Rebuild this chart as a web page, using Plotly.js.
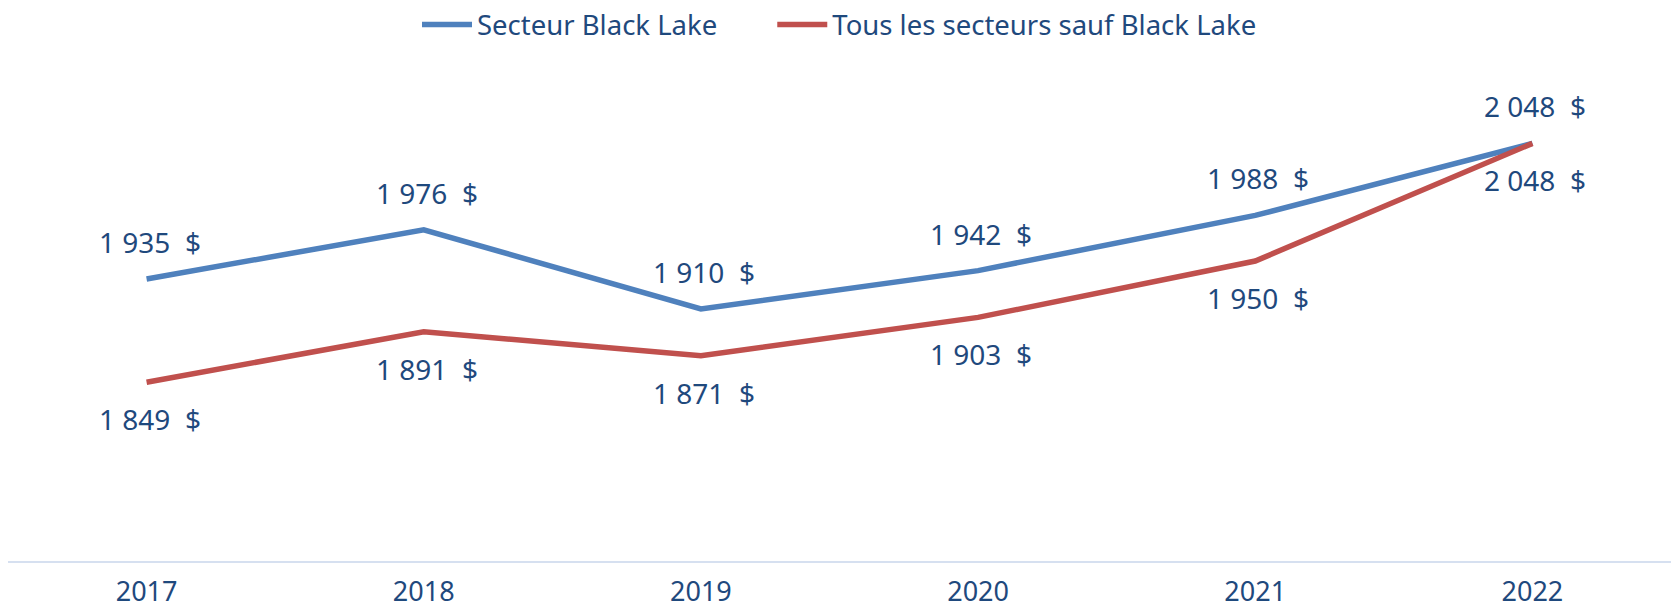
<!DOCTYPE html>
<html>
<head>
<meta charset="utf-8">
<script src="https://cdn.plot.ly/plotly-3.0.1.min.js"></script>
<style>html,body{margin:0;padding:0;background:#fff;}#chart{width:1671px;height:613px;}</style>
</head>
<body>
<div id="chart"></div>
<script>
const years = ["2017", "2018", "2019", "2020", "2021", "2022"];
const blackLake = [1935, 1976, 1910, 1942, 1988, 2048];
const autres = [1849, 1891, 1871, 1903, 1950, 2048];
const seriesNames = ["Secteur Black Lake", "Tous les secteurs sauf Black Lake"];

const textColor = "#1F497D";
const font = "Noto Sans, Open Sans, sans-serif";

function fmt(v) {
  const s = String(v);
  return s.slice(0, s.length - 3) + "\u00a0" + s.slice(-3) + "\u00a0\u00a0$";
}

const traces = [
  {x: years, y: blackLake, name: seriesNames[0] + "\u00a0\u00a0\u00a0\u00a0\u00a0\u00a0\u00a0", type: "scatter", mode: "lines",
   line: {color: "#4F81BD", width: 5.5}, hoverinfo: "skip"},
  {x: years, y: autres, name: seriesNames[1], type: "scatter", mode: "lines",
   line: {color: "#C0504D", width: 5.5}, hoverinfo: "skip"}
];

const annotations = [];
years.forEach((yr, i) => {
  annotations.push({x: i, y: blackLake[i], xref: "x", yref: "y", text: fmt(blackLake[i]),
    showarrow: false, yshift: 37, xshift: 3, font: {family: font, size: 28, color: textColor}});
  annotations.push({x: i, y: autres[i], xref: "x", yref: "y", text: fmt(autres[i]),
    showarrow: false, yshift: -37, xshift: 3, font: {family: font, size: 28, color: textColor}});
});

const layout = {
  width: 1671, height: 613,
  margin: {l: 8, r: 0, t: 78, b: 52},
  paper_bgcolor: "#ffffff", plot_bgcolor: "#ffffff",
  showlegend: true,
  legend: {orientation: "h", x: 0.5, xanchor: "center", y: 1.118, yanchor: "middle",
    font: {family: font, size: 27.5, color: textColor}, itemwidth: 50, traceorder: "normal"},
  xaxis: {type: "category", range: [-0.5, 5.5], showgrid: false, zeroline: false,
    showline: true, linecolor: "#D6E0F0", linewidth: 2, ticks: "",
    tickfont: {family: font, size: 27, color: textColor}, ticklabelstandoff: 6, fixedrange: true},
  yaxis: {range: [1700, 2100], visible: false, showgrid: false, zeroline: false, fixedrange: true},
  annotations: annotations
};

Plotly.newPlot("chart", traces, layout, {displayModeBar: false, staticPlot: true});
</script>
</body>
</html>
